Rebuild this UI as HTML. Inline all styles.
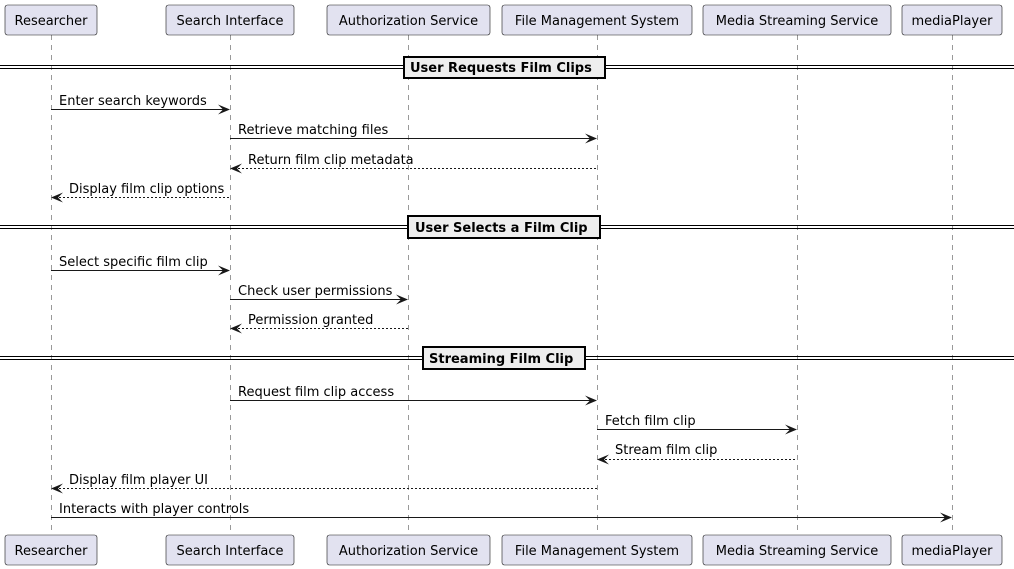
<!DOCTYPE html>
<html><head><meta charset="utf-8"><style>
html,body{margin:0;padding:0;background:#fff;}
svg{display:block;font-family:"DejaVu Sans","Liberation Sans",sans-serif;}
</style></head><body>
<svg width="1014" height="569" viewBox="0 0 1014 569" xmlns="http://www.w3.org/2000/svg">
<g stroke="#999" stroke-width="1" stroke-dasharray="5,5">
<line x1="51.5" y1="35" x2="51.5" y2="535"/>
<line x1="230.5" y1="35" x2="230.5" y2="535"/>
<line x1="408.5" y1="35" x2="408.5" y2="535"/>
<line x1="597.5" y1="35" x2="597.5" y2="535"/>
<line x1="797.5" y1="35" x2="797.5" y2="535"/>
<line x1="952.5" y1="35" x2="952.5" y2="535"/>
</g>
<g fill="#E2E2F0" stroke="#181818" stroke-width="0.6">
<rect x="5" y="5" width="92" height="30" rx="2.5"/>
<rect x="166" y="5" width="128" height="30" rx="2.5"/>
<rect x="327" y="5" width="163" height="30" rx="2.5"/>
<rect x="502" y="5" width="190" height="30" rx="2.5"/>
<rect x="703" y="5" width="188" height="30" rx="2.5"/>
<rect x="902" y="5" width="100" height="30" rx="2.5"/>
<rect x="5" y="535" width="92" height="30" rx="2.5"/>
<rect x="166" y="535" width="128" height="30" rx="2.5"/>
<rect x="327" y="535" width="163" height="30" rx="2.5"/>
<rect x="502" y="535" width="190" height="30" rx="2.5"/>
<rect x="703" y="535" width="188" height="30" rx="2.5"/>
<rect x="902" y="535" width="100" height="30" rx="2.5"/>
</g>
<g font-size="13" fill="#000" text-anchor="middle">
<text x="51" y="25">Researcher</text><text x="230" y="25">Search Interface</text>
<text x="408.5" y="25">Authorization Service</text><text x="597" y="25">File Management System</text>
<text x="797" y="25">Media Streaming Service</text><text x="952" y="25">mediaPlayer</text>
<text x="51" y="555">Researcher</text><text x="230" y="555">Search Interface</text>
<text x="408.5" y="555">Authorization Service</text><text x="597" y="555">File Management System</text>
<text x="797" y="555">Media Streaming Service</text><text x="952" y="555">mediaPlayer</text>
</g>
<g stroke="#000" stroke-width="1">
<line x1="0" y1="65.5" x2="1014" y2="65.5"/><line x1="0" y1="68.5" x2="1014" y2="68.5"/>
<line x1="0" y1="225.5" x2="1014" y2="225.5"/><line x1="0" y1="228.5" x2="1014" y2="228.5"/>
<line x1="0" y1="356.5" x2="1014" y2="356.5"/><line x1="0" y1="359.5" x2="1014" y2="359.5"/>
</g>
<g fill="#EEEEEE" stroke="#000" stroke-width="2">
<rect x="404" y="57" width="201" height="21"/>
<rect x="408" y="216" width="192" height="22"/>
<rect x="423" y="347" width="162" height="22"/>
</g>
<g font-size="13" font-weight="bold" fill="#000">
<text x="410" y="72">User Requests Film Clips</text>
<text x="415" y="232">User Selects a Film Clip</text>
<text x="429" y="363">Streaming Film Clip</text>
</g>
<g stroke="#181818" stroke-width="1" fill="none">
<line x1="51" y1="109.5" x2="226" y2="109.5"/>
<line x1="230" y1="138.5" x2="593" y2="138.5"/>
<line x1="234" y1="168.5" x2="597" y2="168.5" stroke-dasharray="2,2"/>
<line x1="55" y1="197.5" x2="230" y2="197.5" stroke-dasharray="2,2"/>
<line x1="51" y1="270.5" x2="226" y2="270.5"/>
<line x1="230" y1="299.5" x2="404" y2="299.5"/>
<line x1="234" y1="328.5" x2="408" y2="328.5" stroke-dasharray="2,2"/>
<line x1="230" y1="400.5" x2="593" y2="400.5"/>
<line x1="597" y1="429.5" x2="793" y2="429.5"/>
<line x1="601" y1="459.5" x2="797" y2="459.5" stroke-dasharray="2,2"/>
<line x1="55" y1="488.5" x2="597" y2="488.5" stroke-dasharray="2,2"/>
<line x1="51" y1="517.5" x2="948" y2="517.5"/>
</g>
<g fill="#181818">
<polygon points="230,109.5 218,104.5 223,109.5 218,114.5"/>
<polygon points="597,138.5 585,133.5 590,138.5 585,143.5"/>
<polygon points="230,168.5 242,163.5 237,168.5 242,173.5"/>
<polygon points="51,197.5 63,192.5 58,197.5 63,202.5"/>
<polygon points="230,270.5 218,265.5 223,270.5 218,275.5"/>
<polygon points="408,299.5 396,294.5 401,299.5 396,304.5"/>
<polygon points="230,328.5 242,323.5 237,328.5 242,333.5"/>
<polygon points="597,400.5 585,395.5 590,400.5 585,405.5"/>
<polygon points="797,429.5 785,424.5 790,429.5 785,434.5"/>
<polygon points="597,459.5 609,454.5 604,459.5 609,464.5"/>
<polygon points="51,488.5 63,483.5 58,488.5 63,493.5"/>
<polygon points="952,517.5 940,512.5 945,517.5 940,522.5"/>
</g>
<g font-size="13" fill="#000">
<text x="59" y="105">Enter search keywords</text>
<text x="238" y="134">Retrieve matching files</text>
<text x="248" y="164">Return film clip metadata</text>
<text x="69" y="193">Display film clip options</text>
<text x="59" y="266">Select specific film clip</text>
<text x="238" y="295">Check user permissions</text>
<text x="248" y="324">Permission granted</text>
<text x="238" y="396">Request film clip access</text>
<text x="605" y="425">Fetch film clip</text>
<text x="615" y="454">Stream film clip</text>
<text x="69" y="484">Display film player UI</text>
<text x="59" y="513">Interacts with player controls</text>
</g>
</svg>
</body></html>
